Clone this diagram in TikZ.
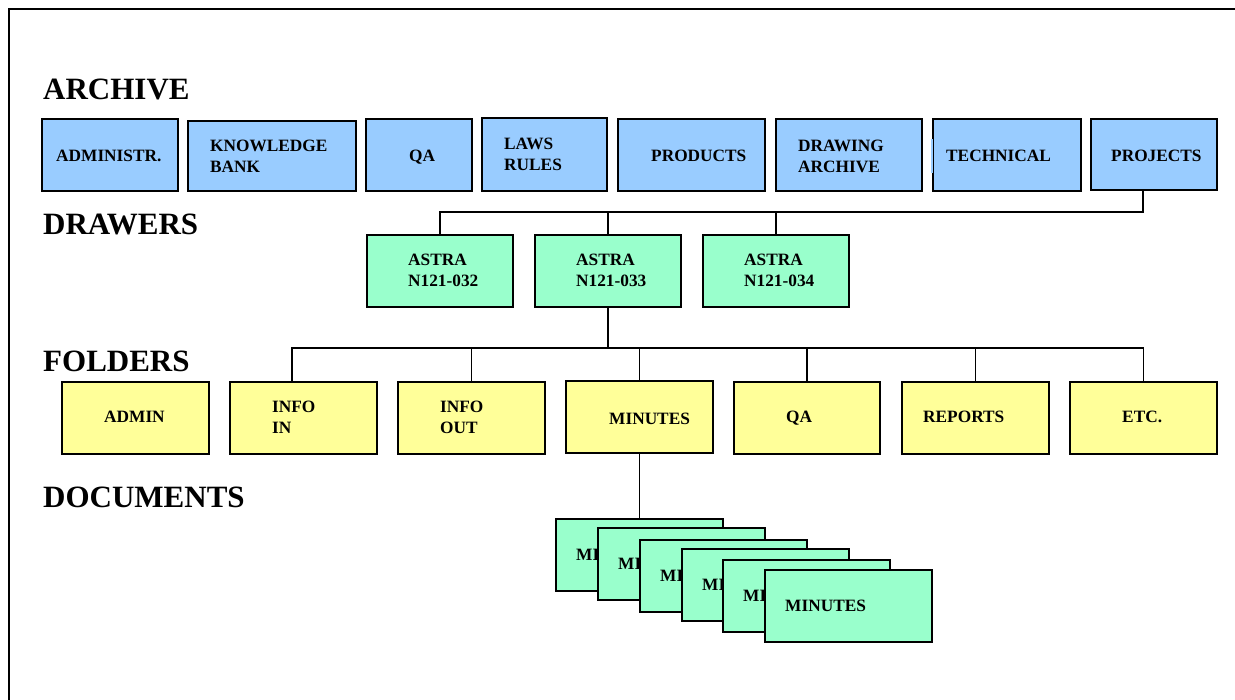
\documentclass[tikz,border=0pt]{standalone}
\usepackage{fontspec}
\setmainfont{Liberation Serif}
\definecolor{archblue}{HTML}{99CCFF}
\definecolor{drawgreen}{HTML}{99FFCC}
\definecolor{foldyellow}{HTML}{FFFF99}

\begin{document}
\begin{tikzpicture}[x=1pt,y=-1pt,
  box/.style={draw=black,line width=1.8pt,inner sep=0pt,anchor=north west,minimum height=72pt},
  archbox/.style={box,fill=archblue},
  drawerbox/.style={box,fill=drawgreen,minimum width=146pt},
  folderbox/.style={box,fill=foldyellow,minimum width=147pt},
  docbox/.style={box,fill=drawgreen,minimum width=167pt},
  % labels are placed by the baseline of their last line
  lbl/.style={anchor=base west,inner sep=0pt,align=left,font=\fontsize{17.3}{20.8}\selectfont\bfseries},
  heading/.style={anchor=base west,inner sep=0pt,font=\fontsize{31}{36}\selectfont\bfseries},
  link/.style={draw=black,line width=1.5pt}
]
\useasboundingbox (0,0) rectangle (1235,700);

% outer frame (top and left edges)
\draw[line width=2pt] (9,700) -- (9,9) -- (1235,9);

% level headings
\node[heading] (hArchive)   at (43,99.5)  {ARCHIVE};
\node[heading] (hDrawers)   at (43,235)   {DRAWERS};
\node[heading] (hFolders)   at (43,371.7) {FOLDERS};
\node[heading] (hDocuments) at (43,507.3) {DOCUMENTS};

% archive row
\node[archbox,minimum width=136pt,minimum height=72pt] (adm)  at (41,118)  {};
\node[archbox,minimum width=168pt,minimum height=70pt] (kb)   at (187,120) {};
\node[archbox,minimum width=106pt] (qa)   at (365,118) {};
\node[archbox,minimum width=125pt,minimum height=73pt] (laws) at (481,117) {};
\node[archbox,minimum width=147pt] (prod) at (617,118) {};
\node[archbox,minimum width=146pt] (drw)  at (775,118) {};
\node[archbox,minimum width=148pt] (tech) at (932,118) {};
\fill[archblue] (930.9,139) rectangle (933.1,173);
\node[archbox,minimum width=126pt,minimum height=71pt] (proj) at (1090,118) {};

\node[lbl] (admT)  at (56,161.5)   {ADMINISTR.};
\node[lbl] (kbT)   at (210,172.3)  {KNOWLEDGE\\BANK};
\node[lbl] (qaT)   at (409,161.5)  {QA};
\node[lbl] (lawsT) at (504,170.5)  {LAWS\\RULES};
\node[lbl] (prodT) at (651,162)    {PRODUCTS};
\node[lbl] (drwT)  at (798,172.3)  {DRAWING\\ARCHIVE};
\node[lbl] (techT) at (946,162)    {TECHNICAL};
\node[lbl] (projT) at (1111,161.5) {PROJECTS};

% drawers row
\node[drawerbox] (d32) at (366,234) {};
\node[drawerbox] (d33) at (534,234) {};
\node[drawerbox] (d34) at (702,234) {};
\node[lbl] (d32T) at (408,286.5) {ASTRA\\N121-032};
\node[lbl] (d33T) at (576,286.5) {ASTRA\\N121-033};
\node[lbl] (d34T) at (744,286.5) {ASTRA\\N121-034};

% folders row
\node[folderbox] (fadm) at (61,381)  {};
\node[folderbox] (fin)  at (229,381) {};
\node[folderbox] (fout) at (397,381) {};
\node[folderbox] (fmin) at (565,380) {};
\node[folderbox,minimum width=146pt] (fqa) at (733,381) {};
\node[folderbox] (frep) at (901,381) {};
\node[folderbox] (fetc) at (1069,381) {};
\node[lbl] (fadmT) at (104,423)   {ADMIN};
\node[lbl] (finT)  at (272,433.5) {INFO\\IN};
\node[lbl] (foutT) at (440,433.5) {INFO\\OUT};
\node[lbl] (fminT) at (609,424.5) {MINUTES};
\node[lbl] (fqaT)  at (786,422.5) {QA};
\node[lbl] (frepT) at (923,422.5) {REPORTS};
\node[lbl] (fetcT) at (1122,422.5) {ETC.};

% bus lines
\coordinate (busA) at (0,212);
\coordinate (busB) at (0,348);

\draw[link] (proj.south -| 1143,0) |- (d32.north |- busA) -- (d32.north);
\draw[link] (d33.north |- busA) -- (d33.north);
\draw[link] (d34.north |- busA) -- (d34.north);

\draw[link] (d33.south) -- (d33.south |- busB);
\draw[link] (fin.north -| 292,0) |- (fetc.north |- busB) -- (fetc.north);
\draw[link] (fout.north |- busB) -- (fout.north);
\draw[link] (fmin.north |- busB) -- (fmin.north);
\draw[link] (fqa.north |- busB) -- (fqa.north);
\draw[link] (frep.north |- busB) -- (frep.north);

% stacked documents
\foreach \i/\x/\y in {1/555/518, 2/597/527, 3/639/539, 4/681/548, 5/722/559, 6/764/569}{
  \node[docbox] (doc\i) at (\x,\y) {};
  \node[lbl] (doc\i T) at (\x+21,\y+42) {MINUTES};
}
\draw[link] (fmin.south) -- (fmin.south |- doc1.north);
\end{tikzpicture}
\end{document}
